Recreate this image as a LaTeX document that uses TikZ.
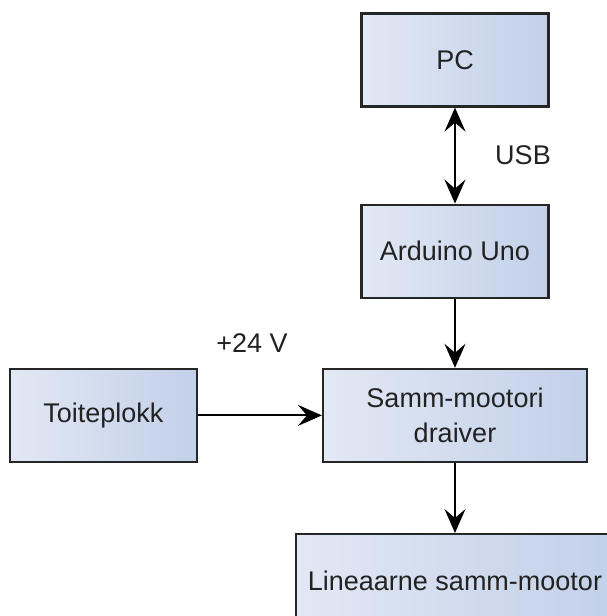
\documentclass[tikz,border=0pt]{standalone}
\usepackage{fontspec}
\setmainfont{Liberation Sans}
\usetikzlibrary{positioning,arrows.meta}

\definecolor{boxL}{HTML}{E2E8F4}
\definecolor{boxR}{HTML}{C2D0E9}
\definecolor{txt}{HTML}{222222}

\tikzset{
	block/.style={rectangle, draw=black!85, line width=2.2pt, left color=boxL, right color=boxR,
		minimum width=187pt, minimum height=93pt, inner sep=0pt, align=center,
		text=txt, font=\fontsize{27}{35}\selectfont},
	lbl/.style={text=txt, font=\fontsize{27}{34}\selectfont},
	link/.style={line width=2pt, draw=black},
	onetip/.style={arrows={-Stealth[length=24pt,width=21pt,inset=9pt]}},
	twotips/.style={arrows={Stealth[length=24pt,width=21pt,inset=9pt]-Stealth[length=24pt,width=21pt,inset=9pt]}}
}

\begin{document}
\begin{tikzpicture}[x=1pt,y=-1pt]
		\useasboundingbox (0,0) rectangle (607,616);
		
		\node[block] (pc) at (455,60) {PC};
		\node[block, below=96pt of pc] (ard) {Arduino Uno};
		\node[block, minimum width=264pt, below=69pt of ard] (drv) {Samm-mootori\\draiver};
		\node[block, left=124pt of drv] (toide) {Toiteplokk};
		\node[block, minimum width=318pt, below=70pt of drv] (lin) {Lineaarne samm-mootor};
		
		\node[lbl] (usb) at (523,155) {USB};
		\node[lbl] (volt) at (252,343) {+24 V};
		
		\draw[link, twotips] (pc) -- (ard);
		\draw[link, onetip] (ard) -- (drv);
		\draw[link, onetip] (toide) -- (drv);
		\draw[link, onetip] (drv) -- (lin);
	\end{tikzpicture}
\end{document}
